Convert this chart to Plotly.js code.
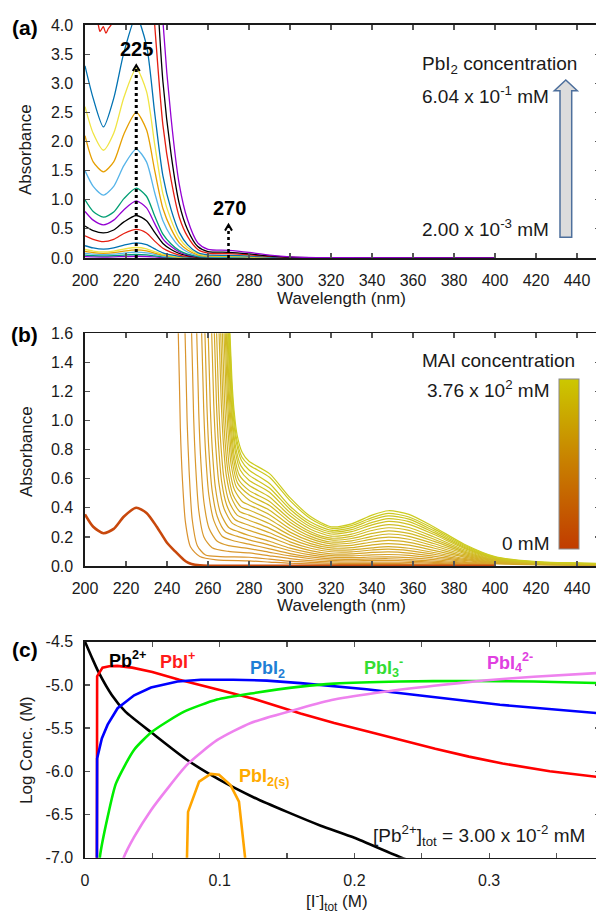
<!DOCTYPE html>
<html><head><meta charset="utf-8">
<script src="https://cdn.plot.ly/plotly-3.0.1.min.js"></script>
<style>html,body{margin:0;padding:0;overflow:hidden;background:#fff}#chart{width:600px;height:914px}</style>
</head><body><div id="chart"></div>
<script>
// ---------- Panel (a): PbI2 spectra ----------
const WL_A = [200, 204, 209, 214, 219, 225, 230, 234, 238, 242, 246, 250, 255, 260, 270, 280, 290, 300, 320, 400];
const A01 = [0.024,0.020,0.017,0.020,0.026,0.030,0.026,0.018,0.010,0.006,0.003,0.002,0.001,0,0,0,0,0,0,0];
const A02 = [0.049,0.040,0.035,0.040,0.051,0.060,0.053,0.036,0.020,0.012,0.006,0.003,0.001,0.001,0,0,0,0,0,0];
const A03 = [0.081,0.066,0.058,0.066,0.085,0.100,0.088,0.060,0.034,0.020,0.011,0.006,0.002,0.001,0.001,0,0,0,0,0];
const A04 = [0.113,0.092,0.081,0.092,0.119,0.140,0.123,0.084,0.048,0.028,0.015,0.008,0.003,0.002,0.002,0.001,0,0,0,0];
const A05 = [0.146,0.119,0.104,0.119,0.153,0.180,0.158,0.108,0.061,0.036,0.019,0.010,0.004,0.002,0.002,0.001,0.001,0,0,0];
const A06 = [0.211,0.172,0.151,0.172,0.221,0.260,0.229,0.156,0.088,0.052,0.027,0.014,0.006,0.003,0.003,0.002,0.001,0,0,0];
const A07 = [0.38,0.32,0.28,0.32,0.42,0.49,0.43,0.29,0.167,0.098,0.051,0.027,0.011,0.006,0.005,0.004,0.002,0.001,0,0];
const A08 = [0.55,0.47,0.43,0.48,0.62,0.73,0.64,0.44,0.25,0.146,0.077,0.040,0.016,0.009,0.008,0.006,0.003,0.001,0,0];
const A09 = [0.80,0.65,0.57,0.65,0.83,0.98,0.86,0.59,0.33,0.196,0.103,0.054,0.022,0.012,0.011,0.008,0.004,0.0015,0,0];
const A10 = [1.00,0.80,0.70,0.79,1.02,1.20,1.06,0.72,0.41,0.24,0.126,0.066,0.026,0.015,0.013,0.010,0.005,0.002,0,0];
const A11 = [1.50,1.23,1.08,1.23,1.59,1.87,1.65,1.12,0.64,0.37,0.196,0.103,0.041,0.023,0.021,0.015,0.007,0.003,0.001,0];
const A12 = [2.10,1.65,1.48,1.65,2.13,2.50,2.20,1.50,0.85,0.50,0.26,0.138,0.055,0.031,0.028,0.020,0.010,0.004,0.001,0];
const A13 = [2.60,2.14,1.85,2.14,2.76,3.25,2.86,1.95,1.10,0.65,0.34,0.18,0.072,0.041,0.036,0.026,0.013,0.005,0.001,0];
const A14 = [3.30,2.74,2.25,2.74,3.53,4.15,3.65,2.49,1.41,0.83,0.44,0.23,0.091,0.052,0.046,0.033,0.017,0.006,0.001,0];
const WL_A15 = [200, 204, 206.5, 207.3, 208.9, 210.2, 211.4, 212.7, 215, 219, 225, 230, 234, 238, 242, 246, 250, 255, 260, 270, 280, 290, 300, 320, 400];
const A15 = [5.4, 4.4, 4.0, 3.89, 3.97, 3.86, 3.94, 4.0, 4.5, 5.7, 6.7, 5.9, 4.0, 2.28, 1.34, 0.70, 0.37, 0.147, 0.084, 0.074, 0.054, 0.027, 0.010, 0.002, 0];
const A16 = [7.2,5.9,5.2,5.9,7.6,8.9,7.8,5.3,3.03,1.78,0.93,0.49,0.196,0.11,0.098,0.071,0.036,0.013,0.003,0];
const A17 = [9.7,7.9,7.0,7.9,10.2,12.0,10.6,7.2,4.08,2.4,1.26,0.66,0.26,0.15,0.132,0.096,0.048,0.018,0.004,0];
const A_SERIES = [A01,A02,A03,A04,A05,A06,A07,A08,A09,A10,A11,A12,A13,A14,A15,A16,A17];
const A_TICKS_X = [200,220,240,260,280,300,320,340,360,380,400,420,440];
const A_TICKS_Y = [0,0.5,1,1.5,2,2.5,3,3.5,4];
const A_PEAKS = [225, 270];

// ---------- Panel (b): MAI titration spectra ----------
const B0_X = [200, 204, 209, 214, 219, 225, 230, 235, 240, 244, 248, 250, 252, 256, 260, 300, 350, 400];
const B0_Y = [0.355, 0.27, 0.225, 0.255, 0.34, 0.40, 0.365, 0.27, 0.16, 0.10, 0.045, 0.025, 0.014, 0.005, 0.002, 0.002, 0.002, 0.002];
const T400 = [280, 290, 300, 310, 320, 330, 340, 348, 358, 370, 385, 400];
const T450 = [280, 290, 300, 310, 320, 330, 340, 348, 358, 370, 385, 400, 420, 450];
const MX01 = [241.5, 245.5, 246.5, 247.5, 249, 251.5, 256, 264, ...T400];
const MY01 = [3, 1.6, 0.95, 0.6, 0.3, 0.13, 0.065, 0.042, 0.035, 0.027, 0.019, 0.015, 0.012, 0.01, 0.01, 0.011, 0.009, 0.007, 0.004, 0.002];
const MX02 = [244.8, 248.8, 249.8, 250.8, 252.3, 254.8, 258.8, 266, ...T400];
const MY02 = [3, 1.6, 1.0, 0.65, 0.32, 0.14, 0.075, 0.065, 0.06, 0.047, 0.033, 0.025, 0.019, 0.017, 0.017, 0.017, 0.015, 0.012, 0.007, 0.003];
const MX03 = [248, 252, 253, 254, 255.5, 258, 262, 270, ...T400];
const MY03 = [3, 1.6, 1.02, 0.68, 0.38, 0.2, 0.125, 0.1, 0.09, 0.07, 0.051, 0.037, 0.029, 0.026, 0.027, 0.027, 0.024, 0.018, 0.011, 0.005];
const MX04 = [250.5, 254.5, 255.5, 256.5, 258, 260.5, 264.5, 270, ...T400];
const MY04 = [3, 1.6, 1.05, 0.72, 0.44, 0.26, 0.17, 0.14, 0.12, 0.094, 0.069, 0.05, 0.039, 0.036, 0.038, 0.038, 0.034, 0.025, 0.015, 0.007];
const MX05 = [252.9, 256.9, 257.9, 258.9, 260.4, 262.9, 266.9, 272, ...T400];
const MY05 = [3, 1.6, 1.08, 0.76, 0.49, 0.31, 0.205, 0.175, 0.15, 0.118, 0.085, 0.063, 0.049, 0.046, 0.049, 0.05, 0.044, 0.033, 0.02, 0.009];
const MX06 = [254.5, 258.5, 259.5, 260.5, 262, 264.5, 268.5, 274, ...T400];
const MY06 = [3, 1.6, 1.09, 0.78, 0.52, 0.34, 0.235, 0.205, 0.18, 0.144, 0.105, 0.076, 0.06, 0.057, 0.062, 0.063, 0.057, 0.044, 0.025, 0.011];
const MX07 = [256.1, 260.1, 261.1, 262.1, 263.6, 266.1, 270.1, 275, ...T400];
const MY07 = [3, 1.6, 1.10, 0.80, 0.54, 0.365, 0.265, 0.235, 0.21, 0.17, 0.123, 0.09, 0.071, 0.07, 0.077, 0.079, 0.073, 0.055, 0.031, 0.014];
const MX08 = [257.8, 261.8, 262.8, 263.8, 265.3, 267.8, 271.8, 276, ...T450];
const MY08 = [3, 1.6, 1.11, 0.82, 0.57, 0.395, 0.295, 0.265, 0.245, 0.2, 0.145, 0.106, 0.084, 0.083, 0.093, 0.097, 0.089, 0.068, 0.038, 0.017, 0.009, 0.005];
const MX09 = [259.1, 263.1, 264.1, 265.1, 266.6, 269.1, 273.1, ...T450];
const MY09 = [3, 1.6, 1.125, 0.835, 0.585, 0.42, 0.32, 0.28, 0.229, 0.166, 0.122, 0.098, 0.097, 0.11, 0.116, 0.106, 0.081, 0.045, 0.02, 0.01, 0.006];
const MX10 = [260.2, 264.2, 265.2, 266.2, 267.7, 270.2, 274.2, ...T450];
const MY10 = [3, 1.6, 1.13, 0.85, 0.61, 0.445, 0.35, 0.315, 0.259, 0.188, 0.138, 0.111, 0.111, 0.125, 0.133, 0.122, 0.093, 0.052, 0.024, 0.012, 0.007];
const MX11 = [261.4, 265.4, 266.4, 267.4, 268.9, 271.4, 275.4, ...T450];
const MY11 = [3, 1.6, 1.145, 0.865, 0.625, 0.47, 0.375, 0.35, 0.29, 0.211, 0.154, 0.124, 0.126, 0.145, 0.154, 0.143, 0.107, 0.061, 0.027, 0.013, 0.008];
const MX12 = [262.2, 266.2, 267.2, 268.2, 269.7, 272.2, 276.2, ...T450];
const MY12 = [3, 1.6, 1.15, 0.88, 0.65, 0.49, 0.405, 0.385, 0.322, 0.233, 0.171, 0.138, 0.142, 0.165, 0.176, 0.163, 0.124, 0.069, 0.031, 0.014, 0.009];
const MX13 = [263, 267, 268, 269, 270.5, 273, 277, ...T450];
const MY13 = [3, 1.6, 1.16, 0.90, 0.67, 0.52, 0.44, 0.42, 0.353, 0.256, 0.188, 0.152, 0.158, 0.185, 0.198, 0.184, 0.139, 0.078, 0.035, 0.016, 0.01];
const MX14 = [263.8, 267.8, 268.8, 269.8, 271.3, 273.8, ...T450];
const MY14 = [3, 1.6, 1.175, 0.915, 0.695, 0.545, 0.454, 0.384, 0.279, 0.204, 0.165, 0.173, 0.204, 0.22, 0.204, 0.155, 0.087, 0.038, 0.018, 0.011];
const MX15 = [264.4, 268.4, 269.4, 270.4, 271.9, 274.4, ...T450];
const MY15 = [3, 1.6, 1.185, 0.935, 0.715, 0.57, 0.49, 0.416, 0.301, 0.221, 0.18, 0.189, 0.224, 0.242, 0.224, 0.171, 0.095, 0.041, 0.02, 0.011];
const MX16 = [264.9, 268.9, 269.9, 270.9, 272.4, 274.9, ...T450];
const MY16 = [3, 1.6, 1.195, 0.95, 0.74, 0.595, 0.52, 0.444, 0.322, 0.236, 0.192, 0.204, 0.244, 0.263, 0.245, 0.186, 0.103, 0.045, 0.021, 0.012];
const MX17 = [265.3, 269.3, 270.3, 271.3, 272.8, 275.3, ...T450];
const MY17 = [3, 1.6, 1.21, 0.97, 0.76, 0.625, 0.555, 0.475, 0.345, 0.253, 0.206, 0.219, 0.263, 0.285, 0.265, 0.201, 0.112, 0.049, 0.022, 0.013];
const MX18 = [265.7, 269.7, 270.7, 271.7, 273.2, 275.7, ...T450];
const MY18 = [3, 1.6, 1.22, 0.99, 0.795, 0.66, 0.59, 0.507, 0.367, 0.27, 0.22, 0.236, 0.283, 0.307, 0.286, 0.218, 0.121, 0.052, 0.024, 0.014];
const MX19 = [266, 270, 271, 272, 273.5, 276, ...T450];
const MY19 = [3, 1.6, 1.235, 1.005, 0.815, 0.69, 0.625, 0.536, 0.39, 0.285, 0.234, 0.25, 0.30, 0.326, 0.305, 0.231, 0.128, 0.056, 0.026, 0.015];
const MX20 = [266.3, 270.3, 271.3, 272.3, 273.8, 276.3, ...T450];
const MY20 = [3, 1.6, 1.25, 1.03, 0.85, 0.725, 0.66, 0.567, 0.411, 0.302, 0.246, 0.264, 0.318, 0.345, 0.322, 0.244, 0.136, 0.059, 0.027, 0.016];
const MX21 = [266.5, 270.5, 271.5, 272.5, 274, 276.5, ...T450];
const MY21 = [3, 1.6, 1.26, 1.05, 0.87, 0.75, 0.695, 0.61, 0.45, 0.325, 0.26, 0.278, 0.333, 0.362, 0.337, 0.257, 0.143, 0.062, 0.028, 0.017];
const MX22 = [266.7, 270.7, 271.7, 272.7, 274.2, 276.7, ...T450];
const MY22 = [3, 1.6, 1.27, 1.07, 0.90, 0.78, 0.72, 0.635, 0.47, 0.34, 0.27, 0.29, 0.35, 0.38, 0.355, 0.27, 0.15, 0.065, 0.03, 0.018];
const MAI_X = [MX01,MX02,MX03,MX04,MX05,MX06,MX07,MX08,MX09,MX10,MX11,MX12,MX13,MX14,MX15,MX16,MX17,MX18,MX19,MX20,MX21,MX22];
const MAI_Y = [MY01,MY02,MY03,MY04,MY05,MY06,MY07,MY08,MY09,MY10,MY11,MY12,MY13,MY14,MY15,MY16,MY17,MY18,MY19,MY20,MY21,MY22];
const B_TICKS_Y = [0,0.2,0.4,0.6,0.8,1.0,1.2,1.4,1.6];

// ---------- Panel (c): speciation ----------
const C_X_PB = [0, 0.005, 0.01, 0.02, 0.03, 0.05, 0.075, 0.1, 0.125, 0.15, 0.175, 0.2, 0.235, 0.25];
const C_Y_PB = [-4.5, -4.68, -4.85, -5.12, -5.31, -5.56, -5.86, -6.1, -6.3, -6.47, -6.63, -6.77, -7.0, -7.08];
const C_X_PBI = [0.0088, 0.009, 0.013, 0.018, 0.024, 0.035, 0.05, 0.07, 0.1, 0.125, 0.16, 0.185, 0.21, 0.235, 0.26, 0.285, 0.31, 0.345, 0.383];
const C_Y_PBI = [-7.5, -4.9, -4.8, -4.785, -4.78, -4.8, -4.85, -4.94, -5.06, -5.16, -5.33, -5.44, -5.54, -5.64, -5.74, -5.83, -5.91, -6.0, -6.07];
const C_X_PBI2 = [0.0088, 0.009, 0.0125, 0.0168, 0.0242, 0.0365, 0.049, 0.0687, 0.086, 0.11, 0.135, 0.16, 0.209, 0.259, 0.308, 0.383];
const C_Y_PBI2 = [-7.5, -5.85, -5.62, -5.46, -5.27, -5.12, -5.03, -4.96, -4.94, -4.94, -4.95, -4.98, -5.05, -5.14, -5.23, -5.33];
const C_X_PBI3 = [0.0103, 0.011, 0.0168, 0.023, 0.0365, 0.05, 0.0736, 0.098, 0.123, 0.16, 0.185, 0.234, 0.283, 0.333, 0.383];
const C_Y_PBI3 = [-7.5, -7.0, -6.53, -6.14, -5.75, -5.54, -5.31, -5.17, -5.10, -5.02, -4.985, -4.96, -4.955, -4.96, -4.98];
const C_X_PBI4 = [0.025, 0.0287, 0.0365, 0.049, 0.0612, 0.076, 0.098, 0.123, 0.16, 0.185, 0.222, 0.259, 0.296, 0.333, 0.383];
const C_Y_PBI4 = [-7.2, -7.0, -6.76, -6.45, -6.2, -5.92, -5.64, -5.44, -5.27, -5.17, -5.08, -5.01, -4.95, -4.905, -4.86];
const C_X_PBI2S = [0.0754, 0.0765, 0.0847, 0.0933, 0.0995, 0.108, 0.1143, 0.1192];
const C_Y_PBI2S = [-7.2, -6.47, -6.12, -6.03, -6.04, -6.16, -6.35, -7.05];
const C_TICKS_X = [0, 0.1, 0.2, 0.3];
const C_TICKTEXT_X = ['0', '0.1', '0.2', '0.3'];
const C_TICKS_Y = [-7, -6.5, -6, -5.5, -5, -4.5];
const C_TICKTEXT_Y = ['-7.0', '-6.5', '-6.0', '-5.5', '-5.0', '-4.5'];

// ---------- styling ----------
const W = 600, H = 914;
const FONT = 'Liberation Sans, Arial, Helvetica, sans-serif';
const INK = '#1a1a1a';
const px = v => v / W;
const py = v => 1 - v / H;
const GP = ['#9400D3', '#009E73', '#56B4E9', '#E69F00', '#F0E442', '#0072B2', '#E51E10', '#000000'];
const CB_SCALE = [[0, 'rgb(193,60,0)'], [0.5, 'rgb(200,126,0)'], [1, 'rgb(204,200,0)']];
const MAI_LOW = [218, 146, 46], MAI_HIGH = [204, 204, 32];

const traces = [];
A_SERIES.forEach((ys, i) => {
  traces.push({type: 'scatter', mode: 'lines', x: i === 14 ? WL_A15 : WL_A, y: ys, xaxis: 'x', yaxis: 'y',
    line: {color: GP[i % 8], width: 1.3, shape: 'spline', smoothing: 0.7}, hoverinfo: 'skip', showlegend: false});
});
MAI_Y.forEach((ys, i) => {
  const t = i / (MAI_Y.length - 1);
  const c = MAI_LOW.map((v, k) => Math.round(v + (MAI_HIGH[k] - v) * t));
  traces.push({type: 'scatter', mode: 'lines', x: MAI_X[i], y: ys, xaxis: 'x2', yaxis: 'y2',
    line: {color: `rgb(${c.join(',')})`, width: 1.2, shape: 'spline', smoothing: 0.7}, hoverinfo: 'skip', showlegend: false});
});
traces.push({type: 'scatter', mode: 'lines', x: B0_X, y: B0_Y, xaxis: 'x2', yaxis: 'y2',
  line: {color: 'rgb(200,72,12)', width: 2.6, shape: 'spline', smoothing: 0.7}, hoverinfo: 'skip', showlegend: false});
traces.push({type: 'scatter', mode: 'markers', x: [null], y: [null], xaxis: 'x2', yaxis: 'y2', hoverinfo: 'skip', showlegend: false,
  marker: {color: [0], cmin: 0, cmax: 1, colorscale: CB_SCALE, showscale: true,
    colorbar: {x: px(559), xanchor: 'left', xref: 'paper', y: py(549), yanchor: 'bottom', yref: 'paper',
      len: 170, lenmode: 'pixels', thickness: 20, thicknessmode: 'pixels', outlinewidth: 1, outlinecolor: '#8a8a8a',
      showticklabels: false, ticks: '', xpad: 0, ypad: 0, borderwidth: 0}}});

const C_LINES = [
  [C_X_PB, C_Y_PB, '#000000', 'spline'],
  [C_X_PBI, C_Y_PBI, '#ff0000', 'linear'],
  [C_X_PBI2, C_Y_PBI2, '#0000ff', 'linear'],
  [C_X_PBI3, C_Y_PBI3, '#00ee00', 'spline'],
  [C_X_PBI4, C_Y_PBI4, '#ee82ee', 'spline'],
  [C_X_PBI2S, C_Y_PBI2S, '#ffa500', 'linear']
];
C_LINES.forEach(([xs, ys, col, shp]) => {
  traces.push({type: 'scatter', mode: 'lines', x: xs, y: ys, xaxis: 'x3', yaxis: 'y3',
    line: {color: col, width: 2.6, shape: shp, smoothing: 0.6}, hoverinfo: 'skip', showlegend: false});
});

function axis(extra) {
  return Object.assign({
    showline: true, linecolor: INK, linewidth: 1.6, mirror: 'ticks',
    ticks: 'inside', ticklen: 5, tickwidth: 1.2, tickcolor: '#555',
    showgrid: false, zeroline: false, fixedrange: true, automargin: false,
    tickfont: {family: FONT, size: 16, color: INK}, ticklabelstandoff: 7
  }, extra);
}
const XD = [px(85), 1];
const layout = {
  width: W, height: H, margin: {l: 0, r: 0, t: 0, b: 0}, paper_bgcolor: '#fff', plot_bgcolor: '#fff',
  showlegend: false, font: {family: FONT, color: INK},
  xaxis: axis({domain: XD, range: [200, 451.2], tickvals: A_TICKS_X, anchor: 'y'}),
  yaxis: axis({domain: [py(258), py(25)], range: [0, 4], tickvals: A_TICKS_Y, tickformat: '.1f', anchor: 'x'}),
  xaxis2: axis({domain: XD, range: [200, 451.2], tickvals: A_TICKS_X, anchor: 'y2'}),
  yaxis2: axis({domain: [py(566), py(333.3)], range: [0, 1.6], tickvals: B_TICKS_Y, tickformat: '.1f', anchor: 'x2'}),
  xaxis3: axis({domain: XD, range: [0, 0.3823], tickvals: C_TICKS_X, ticktext: C_TICKTEXT_X, anchor: 'y3',
    minor: {dtick: 0.05, tick0: 0, ticks: 'inside', ticklen: 5, tickwidth: 1.2, tickcolor: '#555', showgrid: false}}),
  yaxis3: axis({domain: [py(857.7), py(641.7)], range: [-7, -4.5], tickvals: C_TICKS_Y, ticktext: C_TICKTEXT_Y, anchor: 'x3'}),
  shapes: [], annotations: []
};

// arrows at 225 and 270 nm
const ARROW_TOPS = [3.31, 0.57];
A_PEAKS.forEach((wl, i) => {
  const top = ARROW_TOPS[i];
  layout.shapes.push({type: 'line', xref: 'x', yref: 'y', x0: wl, x1: wl, y0: 0, y1: top - 0.02,
    line: {color: '#000', width: i === 0 ? 3 : 2.6, dash: 'dot'}});
  layout.shapes.push({type: 'path', xref: 'x', yref: 'y',
    path: `M ${wl - 1.7},${top - 0.1} L ${wl},${top} L ${wl + 1.7},${top - 0.1}`, line: {color: '#000', width: 2}});
});
// block arrow (concentration increase)
const ARROW_PX = [[560, 237.3], [571.7, 237.3], [571.7, 90.7], [577.3, 90.7], [565.8, 80], [554.3, 90.7], [560, 90.7]];
layout.shapes.push({type: 'path', xref: 'paper', yref: 'paper',
  path: 'M ' + ARROW_PX.map(([a, b]) => `${px(a)},${py(b)}`).join(' L ') + ' Z',
  fillcolor: '#dcdcdc', line: {color: '#4d6f9c', width: 1.5}});

function ann(text, x, y, o) {
  layout.annotations.push(Object.assign({text, x: px(x), y: py(y), xref: 'paper', yref: 'paper', showarrow: false,
    xanchor: 'center', yanchor: 'middle', font: {family: FONT, size: 19, color: INK}}, o || {}));
}
// panel letters
ann('<b>(a)</b>', 24.5, 27, {font: {family: FONT, size: 21, color: '#000'}});
ann('<b>(b)</b>', 24.5, 334, {font: {family: FONT, size: 21, color: '#000'}});
ann('<b>(c)</b>', 24.5, 649, {font: {family: FONT, size: 21, color: '#000'}});
// axis titles
const TF = {family: FONT, size: 17, color: INK};
ann('Absorbance', 26, 150, {textangle: -90, font: TF});
ann('Absorbance', 26, 452, {textangle: -90, font: TF});
ann('Log Conc. (M)', 26, 750, {textangle: -90, font: TF});
ann('Wavelength (nm)', 342, 299, {font: TF});
ann('Wavelength (nm)', 342, 605, {font: TF});
ann('[I<sup>-</sup>]<sub>tot</sub> (M)', 337, 901, {font: TF});
// panel (a) texts
ann('PbI<sub>2</sub> concentration', 420, 65, {xanchor: 'left'});
ann('6.04 x 10<sup>-1</sup> mM', 420, 95, {xanchor: 'left'});
ann('2.00 x 10<sup>-3</sup> mM', 420, 228, {xanchor: 'left'});
layout.annotations.push({text: '<b>' + A_PEAKS[0] + '</b>', x: A_PEAKS[0], y: 3.59, xref: 'x', yref: 'y', showarrow: false,
  font: {family: FONT, size: 20, color: '#000'}});
layout.annotations.push({text: '<b>' + A_PEAKS[1] + '</b>', x: A_PEAKS[1] + 0.5, y: 0.85, xref: 'x', yref: 'y', showarrow: false,
  font: {family: FONT, size: 20, color: '#000'}});
// panel (b) texts
ann('MAI concentration', 420, 360, {xanchor: 'left'});
ann('3.76 x 10<sup>2</sup> mM', 552, 389, {xanchor: 'right'});
ann('0 mM', 552, 543, {xanchor: 'right'});
// panel (c) texts
const BF = (c) => ({family: FONT, size: 18, color: c});
ann('<b>Pb<sup>2+</sup></b>', 107, 659, {xanchor: 'left', font: BF('#000')});
ann('<b>PbI<sup>+</sup></b>', 158, 660, {xanchor: 'left', font: BF('#ff1a1a')});
ann('<b>PbI<sub>2</sub></b>', 248, 669, {xanchor: 'left', font: BF('#1f7fd6')});
ann('<b>PbI<sub>3</sub><sup>-</sup></b>', 362, 667, {xanchor: 'left', font: BF('#33dd33')});
ann('<b>PbI<sub>4</sub><sup>2-</sup></b>', 485, 662, {xanchor: 'left', font: BF('#e040e0')});
ann('<b>PbI<sub>2(s)</sub></b>', 237, 777, {xanchor: 'left', font: BF('#ffaa00')});
ann('[Pb<sup>2+</sup>]<sub>tot</sub> = 3.00 x 10<sup>-2</sup> mM', 587, 835, {xanchor: 'right'});

Plotly.newPlot('chart', traces, layout, {staticPlot: true, displayModeBar: false});
</script>
</body></html>
